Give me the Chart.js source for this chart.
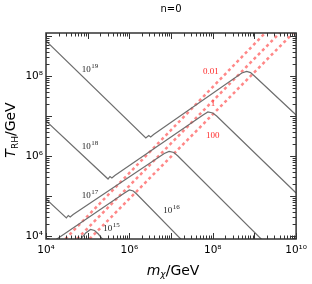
<!DOCTYPE html>
<html>
<head>
<meta charset="utf-8">
<script src="https://cdn.jsdelivr.net/npm/chart.js@4/dist/chart.umd.min.js"></script>
<style>
  html, body { margin: 0; padding: 0; background: #fff; }
  #wrap { width: 312px; height: 284px; }
</style>
</head>
<body>
<div id="wrap"><canvas id="trhChart" width="312" height="284"></canvas></div>
<script>
// axis ranges and labelled ticks
var xRange = [1e4, 1e10];
var yRange = [8.4e3, 1.19e9];
var xTickVals = [1e4, 1e6, 1e8, 1e10];
var yTickVals = [1e4, 1e6, 1e8];

// grey contours, [m_x, T_RH] in GeV
var c19 = [[1e4, 7.5e8], [2.48e6, 2.82e6], [2.92e6, 3.25e6], [3.25e6, 2.99e6], [3.81e6, 3.45e6],
           [4.99e8, 1.19e8], [6.52e8, 1.30e8], [8.07e8, 1.22e8], [1.0e9, 1.0e8], [1e10, 1.06e7]];
var c18 = [[1e4, 7.5e6], [3.08e5, 2.66e5], [3.43e5, 3.07e5], [3.81e5, 2.82e5], [4.48e5, 3.25e5],
           [5.85e7, 1.06e7], [7.65e7, 1.26e7], [1.0e8, 1.19e7], [1.24e8, 1.0e7], [1e10, 1.19e5]];
var c17 = [[1e4, 8.41e4], [3.08e4, 2.82e4], [3.43e4, 3.25e4], [3.81e4, 2.99e4], [4.48e4, 3.45e4],
           [6.87e6, 1.155e6], [8.97e6, 1.30e6], [1.17e7, 1.22e6], [1.46e7, 1.0e6], [1.62e9, 7.5e3]];
var c16 = [[1.62e4, 7.72e3], [7.65e5, 1.19e5], [1.0e6, 1.41e5], [1.24e6, 1.33e5], [1.54e6, 1.09e5],
           [1.90e7, 7.5e3]];
var c15 = [[6.52e4, 7.94e3], [8.97e4, 1.19e4], [1.17e5, 1.45e4], [1.46e5, 1.37e4], [1.80e5, 1.12e4],
           [2.36e5, 7.94e3]];

// red dashed lines
var r001 = [[2.92e4, 8.41e3], [1.80e9, 1.19e9]];
var r1   = [[5.55e4, 8.41e3], [4.03e9, 1.19e9]];
var r100 = [[1.11e5, 8.41e3], [8.5e9, 1.19e9]];

// in-plot labels: [base, exponent, m, T]
var contourLabels = [['10', '19', 7.25e4, 1.26e8], ['10', '18', 7.25e4, 1.5e6], ['10', '17', 7.25e4, 8.9e4],
                     ['10', '16', 6.5e6, 3.76e4], ['10', '15', 2.36e5, 1.33e4]];
var redLabels = [['0.01', 5.85e7, 1.12e8], ['1', 8.97e7, 1.78e7], ['100', 6.87e7, 2.82e6]];

var SUP = {'0': '⁰', '1': '¹', '2': '²', '3': '³', '4': '⁴', '5': '⁵', '6': '⁶', '7': '⁷', '8': '⁸', '9': '⁹'};
function powLabel(v) {
    var e = Math.round(Math.log10(v));
    return '10' + String(e).split('').map(function (c) { return SUP[c]; }).join('');
}
function toXY(arr) {
    return arr.map(function (p) { return {x: p[0], y: p[1]}; });
}
function greyLine(arr) {
    return {data: toXY(arr), showLine: true, borderColor: '#6e6e6e', borderWidth: 1.2,
            pointRadius: 0, tension: 0, fill: false};
}
function redLine(arr) {
    return {data: toXY(arr), showLine: true, borderColor: 'rgba(255, 70, 70, 0.65)', borderWidth: 2.5,
            borderDash: [3, 3], pointRadius: 0, tension: 0, fill: false};
}

// frame, inward ticks on all sides, titles and labels
var decorations = {
    id: 'decorations',
    afterDraw: function (chart) {
        var ctx = chart.ctx, a = chart.chartArea;
        var xs = chart.scales.x, ys = chart.scales.y;
        ctx.save();
        ctx.strokeStyle = '#333';
        ctx.lineWidth = 1;
        [[xs, true], [ys, false]].forEach(function (s) {
            var sc = s[0], lo = Math.floor(Math.log10(sc.min)), hi = Math.ceil(Math.log10(sc.max));
            for (var n = lo; n <= hi; n++) {
                for (var k = 1; k <= 9; k++) {
                    var v = k * Math.pow(10, n);
                    if (v < sc.min || v > sc.max) continue;
                    var p = Math.round(sc.getPixelForValue(v)) + 0.5;
                    var len = k === 1 ? 6 : 3.5;
                    ctx.beginPath();
                    if (s[1]) {
                        ctx.moveTo(p, a.bottom); ctx.lineTo(p, a.bottom - len);
                        ctx.moveTo(p, a.top); ctx.lineTo(p, a.top + len);
                    } else {
                        ctx.moveTo(a.left, p); ctx.lineTo(a.left + len, p);
                        ctx.moveTo(a.right, p); ctx.lineTo(a.right - len, p);
                    }
                    ctx.stroke();
                }
            }
        });
        ctx.lineWidth = 1.5;
        ctx.strokeRect(a.left, a.top, a.right - a.left, a.bottom - a.top);

        // contour labels
        ctx.fillStyle = '#222';
        ctx.textBaseline = 'alphabetic';
        ctx.textAlign = 'left';
        contourLabels.forEach(function (l) {
            var px = xs.getPixelForValue(l[2]), py = ys.getPixelForValue(l[3]);
            ctx.font = '9px "Liberation Serif"';
            ctx.fillText(l[0], px, py);
            var w = ctx.measureText(l[0]).width;
            ctx.font = '7px "Liberation Serif"';
            ctx.fillText(l[1], px + w + 0.5, py - 4);
        });
        ctx.fillStyle = '#ff2a2a';
        ctx.font = '9px "Liberation Serif"';
        redLabels.forEach(function (l) {
            ctx.fillText(l[0], xs.getPixelForValue(l[1]), ys.getPixelForValue(l[2]));
        });

        // title
        ctx.fillStyle = '#000';
        ctx.textAlign = 'center';
        ctx.font = '10px "DejaVu Sans"';
        ctx.fillText('n=0', (a.left + a.right) / 2, 12);

        // x title: m_x/GeV
        ctx.textAlign = 'left';
        var cx = (a.left + a.right) / 2 + 2, by = 275;
        ctx.font = 'italic 14px "DejaVu Sans"';
        var wm = ctx.measureText('m').width;
        ctx.font = 'italic 9px "DejaVu Sans"';
        var wc = ctx.measureText('χ').width;
        ctx.font = '14px "DejaVu Sans"';
        var wg = ctx.measureText('/GeV').width;
        var x0 = cx - (wm + wc + wg) / 2;
        ctx.font = 'italic 14px "DejaVu Sans"';
        ctx.fillText('m', x0, by);
        ctx.font = 'italic 9px "DejaVu Sans"';
        ctx.fillText('χ', x0 + wm, by + 2);
        ctx.font = '14px "DejaVu Sans"';
        ctx.fillText('/GeV', x0 + wm + wc, by);

        // y title: T_RH/GeV
        ctx.translate(15, (a.top + a.bottom) / 2 - 6);
        ctx.rotate(-Math.PI / 2);
        ctx.font = 'italic 14px "DejaVu Sans"';
        var wt = ctx.measureText('T').width;
        ctx.font = '9px "DejaVu Sans"';
        var wr = ctx.measureText('RH').width;
        ctx.font = '14px "DejaVu Sans"';
        var wv = ctx.measureText('/GeV').width;
        var y0 = -(wt + wr + wv) / 2;
        ctx.font = 'italic 14px "DejaVu Sans"';
        ctx.fillText('T', y0, 0);
        ctx.font = '9px "DejaVu Sans"';
        ctx.fillText('RH', y0 + wt, 3);
        ctx.font = '14px "DejaVu Sans"';
        ctx.fillText('/GeV', y0 + wt + wr, 0);
        ctx.restore();
    }
};

new Chart(document.getElementById('trhChart'), {
    type: 'scatter',
    data: {
        datasets: [greyLine(c19), greyLine(c18), greyLine(c17), greyLine(c16), greyLine(c15),
                   redLine(r001), redLine(r1), redLine(r100)]
    },
    options: {
        responsive: false,
        animation: false,
        devicePixelRatio: 1,
        layout: { padding: { top: 33, right: 8, left: 0, bottom: 0 } },
        plugins: { legend: { display: false }, tooltip: { enabled: false } },
        scales: {
            x: {
                type: 'logarithmic',
                min: xRange[0], max: xRange[1],
                grid: { display: false, drawTicks: false },
                border: { display: false },
                afterBuildTicks: function (s) { s.ticks = xTickVals.map(function (v) { return {value: v}; }); },
                afterFit: function (s) { s.height = 45; },
                ticks: { autoSkip: false, maxRotation: 0, padding: 5, color: '#000',
                         font: { family: 'DejaVu Sans', size: 10.5 }, callback: powLabel }
            },
            y: {
                type: 'logarithmic',
                min: yRange[0], max: yRange[1],
                grid: { display: false, drawTicks: false },
                border: { display: false },
                afterBuildTicks: function (s) { s.ticks = yTickVals.map(function (v) { return {value: v}; }); },
                afterFit: function (s) { s.width = 46; },
                ticks: { autoSkip: false, padding: 3, color: '#000',
                         font: { family: 'DejaVu Sans', size: 10.5 }, callback: powLabel }
            }
        }
    },
    plugins: [decorations]
});
</script>
</body>
</html>
